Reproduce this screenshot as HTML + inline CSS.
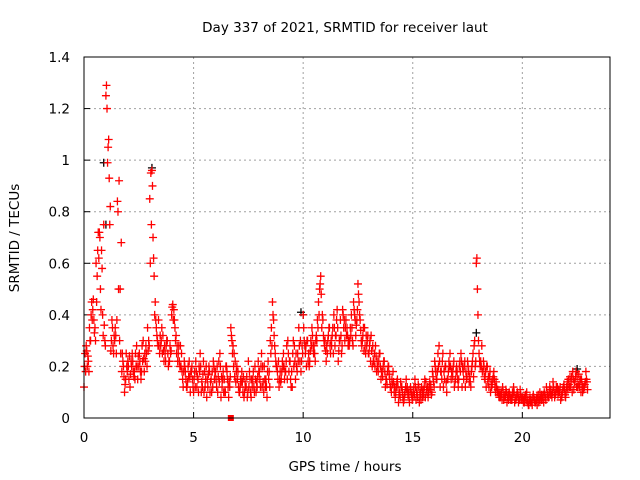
<!DOCTYPE html>
<html><head><meta charset="utf-8"><style>
body{margin:0;background:#fff;}
svg{display:block;font-family:"DejaVu Sans","Liberation Sans",sans-serif;}
</style></head><body>
<svg id="chart" width="640" height="480" viewBox="0 0 640 480">
<rect width="640" height="480" fill="#fff"/>
<text x="345" y="32" font-size="13.5" text-anchor="middle">Day 337 of 2021, SRMTID for receiver laut</text>
<text x="19" y="238" font-size="13.5" text-anchor="middle" transform="rotate(-90 19 238)">SRMTID / TECUs</text>
<text x="345" y="471" font-size="13.5" text-anchor="middle">GPS time / hours</text>
<g id="grid"></g>
<g id="ticks"></g>
<g id="marks"></g>
<rect x="84" y="57" width="526" height="361" fill="none" stroke="#000" stroke-width="1"/>
</svg>
<script>
const xTicks=[0,5,10,15,20];
const yTicks=[0,0.2,0.4,0.6,0.8,1,1.2,1.4];
const yTickLabels=["0","0.2","0.4","0.6","0.8","1","1.2","1.4"];
const valsA=[0.12,0.28,0.22,0.30,0.42,0.35,0.55,0.72,0.65,0.75,
1.25,1.05,0.82,0.35,0.30,0.38,0.92,0.68,0.20,0.15,
0.22,0.12,0.25,0.18,0.28,0.20,0.15,0.30,0.22,0.35,
0.85,0.96,0.55,0.35,0.38,0.28,0.32,0.25,0.30,0.22,
0.40,0.42,0.32,0.25,0.28,0.15,0.20,0.12,0.22,0.18,
0.10,0.22,0.15,0.25,0.12,0.18,0.08,0.20,0.15,0.22,
0.18,0.10,0.25,0.12,0.15,0.20,0.08,0.35,0.28,0.22,
0.15,0.10,0.18,0.08,0.12,0.22,0.10,0.15,0.20,0.12,
0.18,0.25,0.10,0.15,0.22,0.30,0.45,0.28,0.20,0.12,
0.15,0.25,0.18,0.30,0.22,0.12,0.28,0.20,0.35,0.18,
0.40,0.25,0.30,0.22,0.35,0.28,0.32,0.45,0.55,0.38,
0.30,0.25,0.35,0.28,0.40,0.32,0.22,0.38,0.42,0.30,
0.35,0.28,0.40,0.45,0.32,0.52,0.38,0.30,0.35,0.28,
0.25,0.32,0.22,0.28,0.20,0.25,0.18,0.22,0.15,0.20,
0.12,0.18,0.08,0.15,0.10,0.12,0.07,0.15,0.10,0.12,
0.08,0.15,0.10,0.06,0.12,0.09,0.14,0.08,0.11,0.18,
0.22,0.15,0.28,0.18,0.12,0.20,0.15,0.25,0.18,0.12,
0.20,0.15,0.25,0.18,0.12,0.22,0.16,0.20,0.28,0.60,
0.30,0.22,0.18,0.15,0.20,0.16,0.12,0.18,0.14,0.10,
0.08,0.12,0.09,0.06,0.10,0.08,0.12,0.07,0.09,0.11,
0.08,0.06,0.10,0.05,0.07,0.09,0.06,0.08,0.10,0.07,
0.10,0.12,0.08,0.11,0.14,0.09,0.12,0.10,0.08,0.13,
0.10,0.15,0.12,0.18,0.14,0.16,0.12,0.15,0.11,0.18];
const valsB=[0.25,0.20,0.35,0.45,0.38,0.60,0.72,0.50,0.40,0.30,
1.20,0.93,0.30,0.25,0.32,0.80,0.50,0.25,0.10,0.20,
0.15,0.22,0.18,0.25,0.15,0.22,0.28,0.18,0.25,0.30,
0.95,0.70,0.45,0.30,0.25,0.35,0.22,0.28,0.20,0.25,
0.44,0.35,0.28,0.22,0.25,0.18,0.15,0.20,0.10,0.15,
0.18,0.12,0.20,0.10,0.22,0.15,0.12,0.10,0.18,0.15,
0.12,0.22,0.08,0.18,0.10,0.15,0.12,0.30,0.25,0.18,
0.12,0.15,0.10,0.14,0.08,0.18,0.15,0.12,0.10,0.22,
0.12,0.20,0.15,0.08,0.18,0.35,0.38,0.22,0.15,0.18,
0.22,0.15,0.28,0.18,0.12,0.30,0.15,0.25,0.22,0.28,
0.30,0.20,0.25,0.30,0.28,0.22,0.38,0.50,0.35,0.30,
0.22,0.32,0.25,0.35,0.28,0.42,0.30,0.25,0.35,0.38,
0.28,0.35,0.30,0.40,0.38,0.45,0.30,0.35,0.25,0.32,
0.30,0.20,0.25,0.18,0.22,0.15,0.20,0.12,0.18,0.15,
0.15,0.10,0.12,0.06,0.14,0.08,0.10,0.12,0.06,0.09,
0.12,0.07,0.13,0.10,0.08,0.15,0.10,0.12,0.09,0.14,
0.18,0.25,0.12,0.22,0.15,0.10,0.22,0.15,0.20,0.15,
0.15,0.22,0.12,0.20,0.15,0.18,0.12,0.25,0.20,0.50,
0.22,0.28,0.20,0.12,0.16,0.10,0.15,0.12,0.10,0.08,
0.10,0.07,0.11,0.09,0.08,0.10,0.06,0.09,0.08,0.07,
0.06,0.09,0.07,0.08,0.05,0.07,0.08,0.06,0.07,0.09,
0.08,0.09,0.12,0.08,0.10,0.12,0.11,0.07,0.11,0.09,
0.14,0.12,0.16,0.11,0.18,0.13,0.15,0.10,0.13,0.14];
const valsC=[0.20,0.26,0.18,0.40,0.46,0.30,0.65,0.70,0.58,0.36,
1.29,1.08,0.26,0.28,0.35,0.84,0.30,0.18,0.16,0.25,
0.20,0.17,0.22,0.15,0.20,0.25,0.18,0.23,0.28,0.26,
0.60,0.90,0.40,0.32,0.28,0.30,0.26,0.22,0.25,0.28,
0.43,0.38,0.25,0.28,0.20,0.12,0.18,0.14,0.16,0.20,
0.15,0.18,0.10,0.20,0.17,0.12,0.15,0.18,0.10,0.20,
0.15,0.16,0.20,0.15,0.10,0.18,0.14,0.32,0.20,0.14,
0.18,0.12,0.14,0.10,0.16,0.12,0.08,0.18,0.15,0.16,
0.15,0.12,0.20,0.12,0.15,0.25,0.40,0.25,0.18,0.15,
0.18,0.20,0.22,0.25,0.15,0.25,0.22,0.18,0.28,0.22,
0.35,0.28,0.22,0.26,0.32,0.25,0.30,0.40,0.48,0.32,
0.26,0.30,0.28,0.32,0.35,0.38,0.26,0.32,0.40,0.35,
0.32,0.30,0.35,0.42,0.36,0.48,0.34,0.32,0.28,0.30,
0.28,0.26,0.22,0.24,0.18,0.20,0.16,0.18,0.13,0.17,
0.10,0.14,0.10,0.12,0.08,0.10,0.09,0.11,0.08,0.10,
0.10,0.12,0.08,0.09,0.10,0.12,0.11,0.10,0.13,0.16,
0.20,0.18,0.22,0.15,0.18,0.14,0.18,0.20,0.16,0.14,
0.18,0.20,0.22,0.15,0.18,0.20,0.14,0.22,0.30,0.62,
0.25,0.20,0.22,0.18,0.14,0.18,0.13,0.15,0.12,0.09,
0.09,0.10,0.08,0.08,0.09,0.07,0.10,0.08,0.06,0.09,
0.07,0.08,0.06,0.07,0.06,0.08,0.07,0.09,0.08,0.08,
0.09,0.10,0.10,0.09,0.12,0.10,0.09,0.12,0.10,0.11,
0.12,0.13,0.14,0.15,0.16,0.12,0.14,0.13,0.12,0.15];
const valsD=[0.18,0.24,0.30,0.38,0.33,0.45,0.62,0.42,0.32,0.28,
0.99,0.75,0.38,0.32,0.25,0.50,0.25,0.22,0.13,0.18,
0.24,0.20,0.16,0.20,0.24,0.18,0.22,0.25,0.20,0.28,
0.75,0.62,0.38,0.28,0.32,0.25,0.28,0.30,0.22,0.26,
0.38,0.30,0.22,0.20,0.18,0.22,0.12,0.16,0.18,0.12,
0.12,0.16,0.18,0.14,0.10,0.20,0.17,0.14,0.12,0.18,
0.20,0.14,0.16,0.10,0.20,0.12,0.16,0.25,0.16,0.20,
0.10,0.14,0.16,0.12,0.10,0.15,0.12,0.10,0.14,0.18,
0.20,0.14,0.12,0.18,0.12,0.28,0.32,0.20,0.22,0.14,
0.20,0.18,0.15,0.22,0.18,0.20,0.25,0.22,0.30,0.25,
0.28,0.30,0.20,0.28,0.25,0.30,0.35,0.52,0.40,0.28,
0.28,0.35,0.30,0.25,0.32,0.35,0.30,0.28,0.38,0.32,
0.30,0.32,0.28,0.38,0.42,0.40,0.28,0.26,0.32,0.25,
0.22,0.28,0.20,0.22,0.25,0.18,0.22,0.15,0.20,0.12,
0.13,0.12,0.14,0.09,0.12,0.06,0.12,0.09,0.11,0.07,
0.09,0.10,0.12,0.07,0.11,0.08,0.12,0.14,0.10,0.12,
0.15,0.20,0.18,0.25,0.20,0.15,0.20,0.18,0.22,0.18,
0.12,0.18,0.20,0.22,0.16,0.14,0.18,0.16,0.22,0.40,
0.20,0.18,0.16,0.20,0.12,0.14,0.16,0.10,0.11,0.10,
0.07,0.08,0.10,0.07,0.07,0.09,0.08,0.10,0.07,0.08,
0.08,0.07,0.05,0.06,0.08,0.06,0.05,0.07,0.09,0.06,
0.07,0.08,0.09,0.10,0.08,0.11,0.10,0.09,0.12,0.08,
0.11,0.16,0.10,0.14,0.12,0.17,0.10,0.12,0.14,0.11];
const blackTimes=[0.9,1.0,3.1,9.9,10.0,17.9,22.5];
const blackVals=[0.99,0.75,0.97,0.41,0.40,0.33,0.19];
const NS="http://www.w3.org/2000/svg";
const X0=84,X1=610,Y0=418,Y1=57;
function xs(t){return X0+(t/24)*(X1-X0);}
function ys(v){return Y0-(v/1.4)*(Y0-Y1);}
function mk(tag,attrs,parent){const e=document.createElementNS(NS,tag);for(const k in attrs)e.setAttribute(k,attrs[k]);parent.appendChild(e);return e;}
const grid=document.getElementById('grid'),ticks=document.getElementById('ticks'),marks=document.getElementById('marks');
xTicks.forEach((t,i)=>{
  const x=xs(t);
  if(t>0){const g=mk('line',{x1:x,x2:x,y1:Y1,y2:Y0,stroke:'#a0a0a0','stroke-dasharray':'2,3'},grid);
  
  }
  const l=mk('line',{x1:x,x2:x,y1:Y0,y2:Y0-6,stroke:'#000'},ticks);
  
  
  const tx=mk('text',{x:x,y:Y0+24,'font-size':13.5,'text-anchor':'middle'},ticks);tx.textContent=String(t);
  
  
});
yTicks.forEach((v,i)=>{
  const y=ys(v);
  if(v>0&&v<1.4){const g=mk('line',{x1:X0,x2:X1,y1:y,y2:y,stroke:'#a0a0a0','stroke-dasharray':'2,3'},grid);
  
  }
  const l=mk('line',{x1:X0,x2:X0+6,y1:y,y2:y,stroke:'#000'},ticks);
  
  
  const tx=mk('text',{x:X0-14,y:y+5,'font-size':13.5,'text-anchor':'end'},ticks);tx.textContent=yTickLabels[i];
  
  
});
function plus(x,y,color,name){
  const p=mk('path',{d:`M${x-4},${y}h8M${x},${y-4}v8`,stroke:color,'stroke-width':1.3,fill:'none'},marks);
  
  
}
blackTimes.forEach((t,i)=>plus(xs(t),ys(blackVals[i]),'#000','black-point'));
valsA.forEach((v,i)=>plus(xs(i*0.1),ys(v),'#f00','red-point'));
valsB.forEach((v,i)=>plus(xs(i*0.1+0.05),ys(v),'#f00','red-point'));
valsC.forEach((v,i)=>plus(xs(i*0.1+0.025),ys(v),'#f00','red-point'));
valsD.forEach((v,i)=>plus(xs(i*0.1+0.075),ys(v),'#f00','red-point'));
const sq=mk('rect',{x:xs(6.7)-3,y:Y0-3,width:6,height:6,fill:'#f00'},marks);


</script>
</body></html>
